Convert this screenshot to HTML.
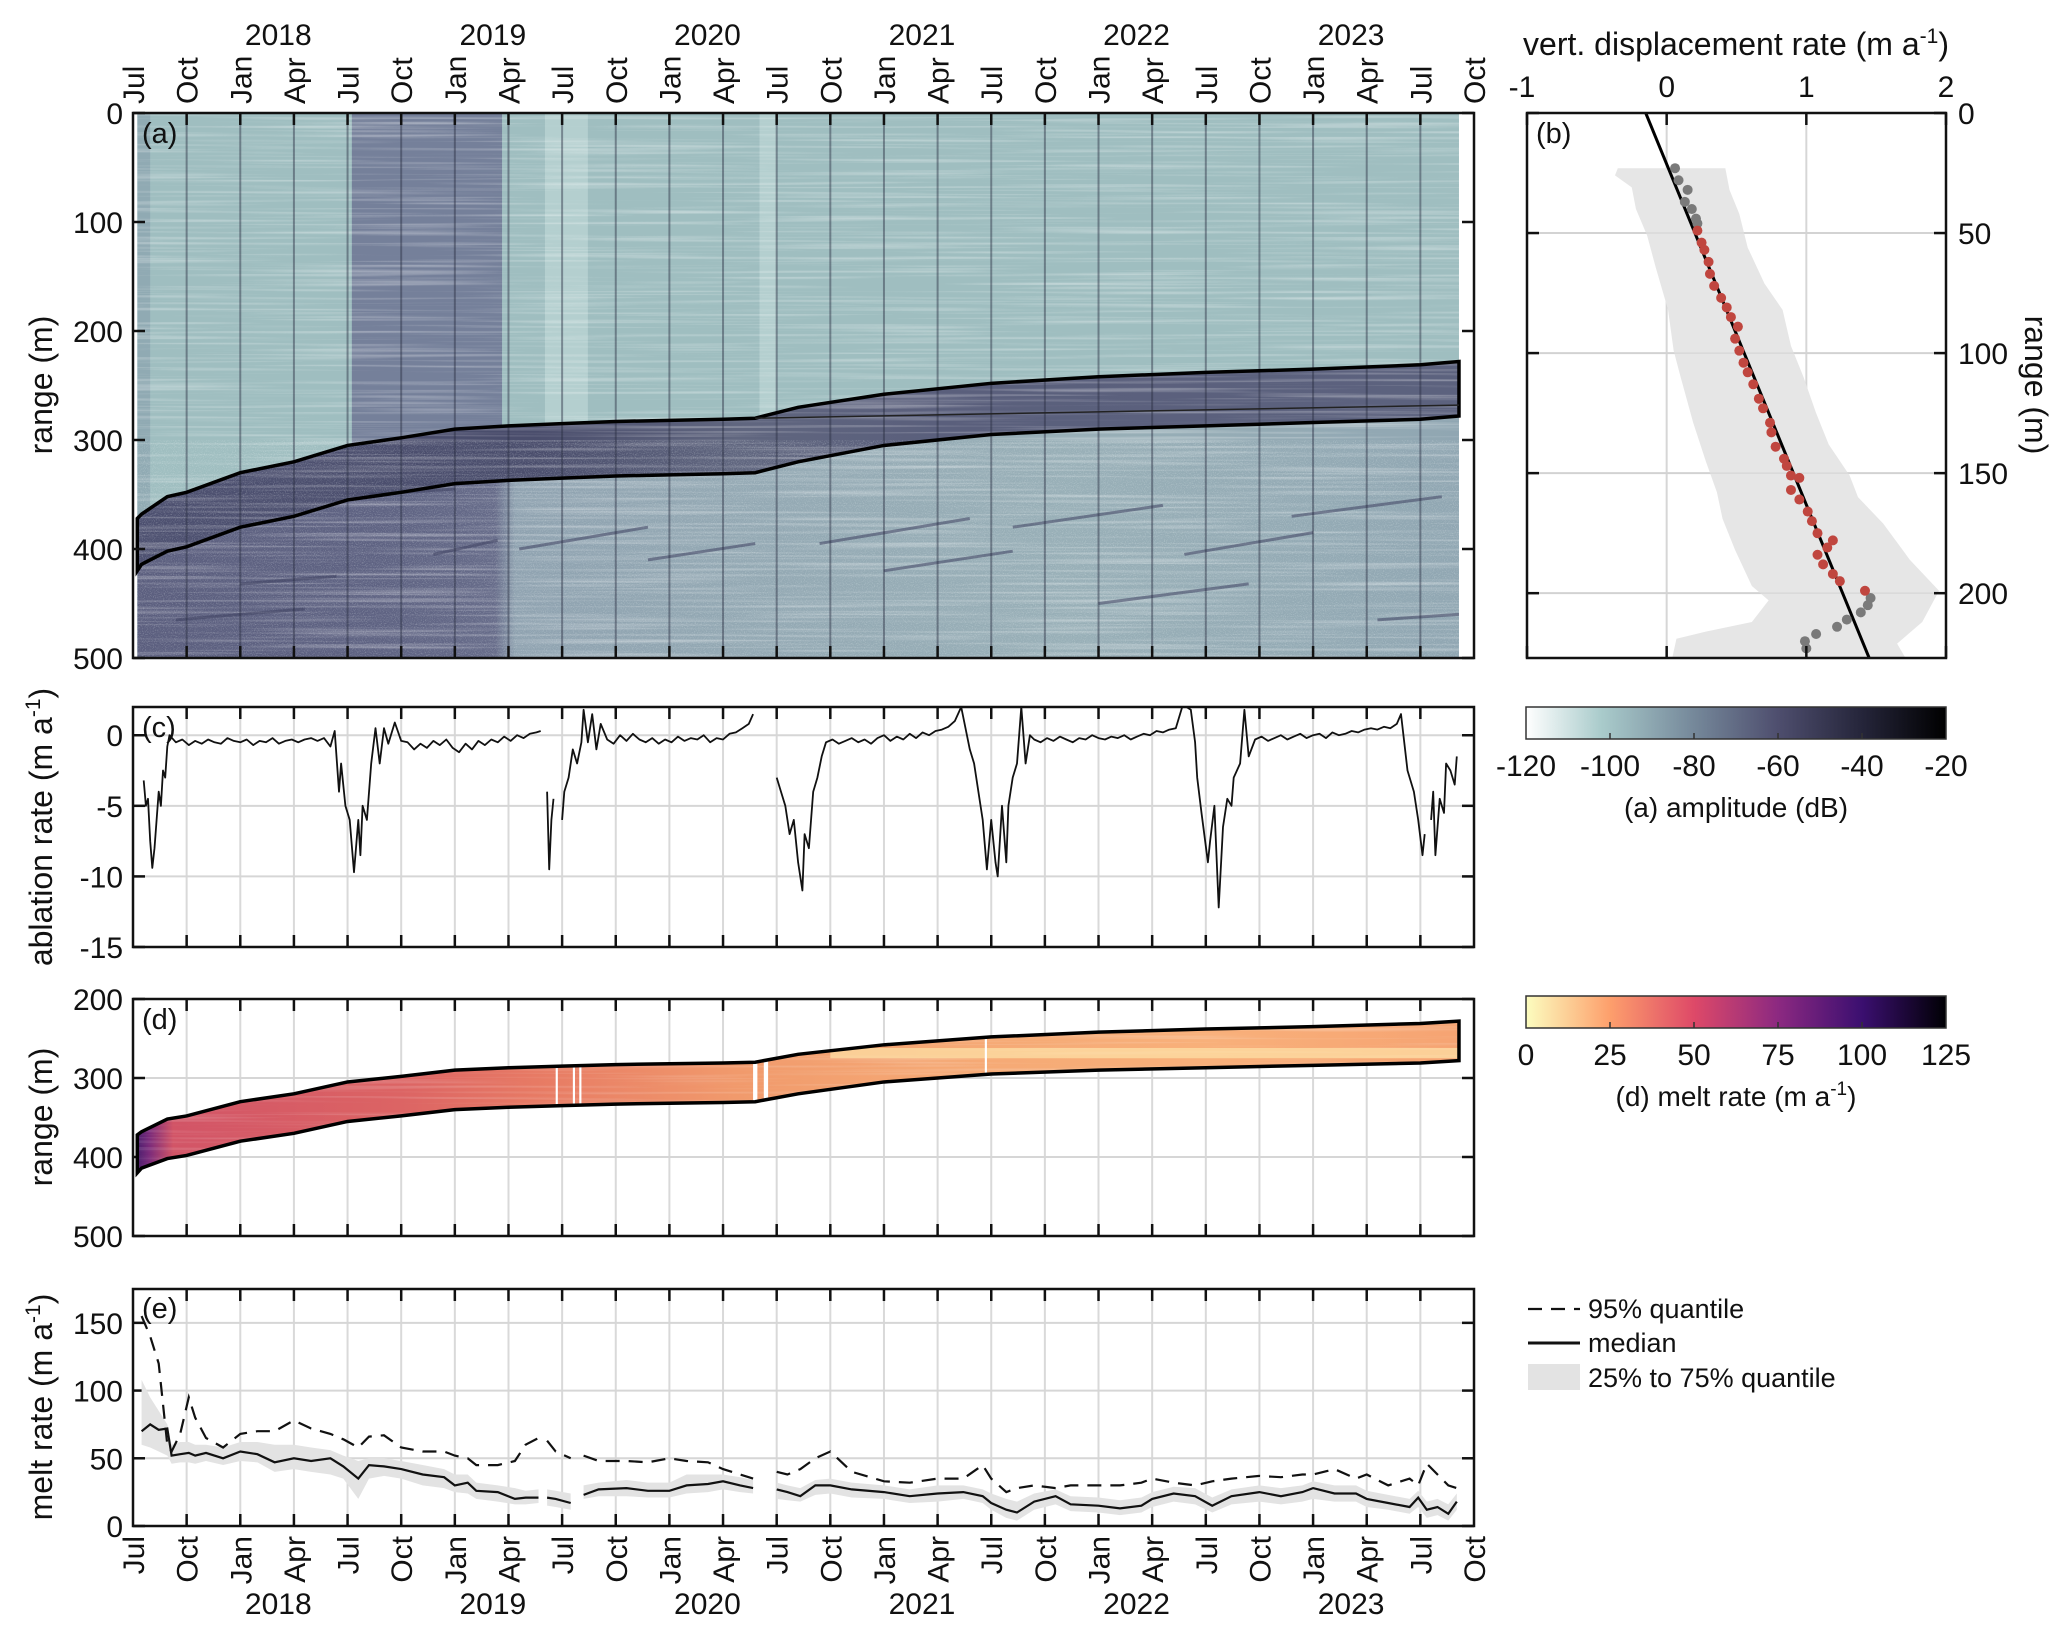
<!DOCTYPE html>
<html><head><meta charset="utf-8"><style>
html,body{margin:0;padding:0;background:#fff;}
svg{display:block;font-family:"Liberation Sans",Arial,sans-serif;}
</style></head><body>
<svg id="fig" width="2067" height="1636" viewBox="0 0 2067 1636" xmlns="http://www.w3.org/2000/svg">
<defs>
<filter id="streaks" x="0" y="0" width="100%" height="100%">
<feTurbulence type="fractalNoise" baseFrequency="0.004 0.35" numOctaves="2" seed="3"/>
<feColorMatrix type="matrix" values="0 0 0 0 1  0 0 0 0 1  0 0 0 0 1  1.6 0 0 0 -0.75"/>
</filter>
<filter id="speckle" x="0" y="0" width="100%" height="100%">
<feTurbulence type="fractalNoise" baseFrequency="0.9" numOctaves="1" seed="7"/>
<feColorMatrix type="matrix" values="0 0 0 0 0.85  0 0 0 0 0.92  0 0 0 0 0.92  1.8 0 0 0 -0.85"/>
</filter>
<linearGradient id="ampGrad" x1="0" x2="1" y1="0" y2="0">
<stop offset="0" stop-color="#ffffff"/><stop offset="0.18" stop-color="#a9cbcb"/><stop offset="0.4" stop-color="#75889a"/><stop offset="0.6" stop-color="#4e4e6e"/><stop offset="0.8" stop-color="#25253a"/><stop offset="1" stop-color="#000000"/>
</linearGradient>
<linearGradient id="magGrad" x1="0" x2="1" y1="0" y2="0">
<stop offset="0" stop-color="#fcfdbf"/><stop offset="0.2" stop-color="#fd9f6c"/><stop offset="0.4" stop-color="#de4968"/><stop offset="0.6" stop-color="#8c2981"/><stop offset="0.8" stop-color="#3b0f70"/><stop offset="1" stop-color="#000004"/>
</linearGradient>
</defs>
</svg>
<script>
// ===== data =====
const quarterTicks=[2017.5,2017.75,2018,2018.25,2018.5,2018.75,2019,2019.25,2019.5,2019.75,2020,2020.25,2020.5,2020.75,2021,2021.25,2021.5,2021.75,2022,2022.25,2022.5,2022.75,2023,2023.25,2023.5,2023.75];
const monthNames={0.5:'Jul',0.75:'Oct',0:'Jan',0.25:'Apr'};
const yearLabels=[2018,2019,2020,2021,2022,2023];
// layer boundaries (panel a,d)
const bndT=[2017.52,2017.54,2017.66,2017.75,2018.0,2018.25,2018.5,2018.75,2019.0,2019.25,2019.5,2019.75,2020.0,2020.25,2020.4,2020.6,2021.0,2021.5,2022.0,2022.5,2023.0,2023.5,2023.68];
const bndUpper=[372,368,352,348,330,320,305,298,290,287,285,283,282,281,280,270,258,248,242,238,235,231,228];
const bndLower=[420,414,402,398,380,370,355,348,340,337,335,333,332,331,330,320,305,295,290,287,284,281,278];
// panel c ablation rate (null = gap)
const ablT=[2017.55,2017.56,2017.57,2017.58,2017.59,2017.6,2017.61,2017.62,2017.63,2017.64,2017.65,2017.66,2017.67,2017.7,2017.73,2017.76,2017.79,2017.82,2017.85,2017.88,2017.91,2017.94,2017.97,2018.0,2018.03,2018.06,2018.09,2018.12,2018.15,2018.18,2018.21,2018.24,2018.27,2018.3,2018.33,2018.36,2018.39,2018.42,2018.44,2018.46,2018.47,2018.49,2018.51,2018.53,2018.55,2018.56,2018.57,2018.59,2018.61,2018.63,2018.65,2018.67,2018.69,2018.72,2018.75,2018.78,2018.81,2018.84,2018.87,2018.9,2018.93,2018.96,2018.99,2019.02,2019.05,2019.08,2019.11,2019.14,2019.17,2019.2,2019.23,2019.26,2019.29,2019.32,2019.35,2019.38,2019.4,null,2019.43,2019.44,2019.45,2019.46,null,2019.5,2019.51,2019.53,2019.55,2019.57,2019.59,2019.6,2019.62,2019.64,2019.66,2019.68,2019.71,2019.74,2019.77,2019.8,2019.83,2019.86,2019.89,2019.92,2019.95,2019.98,2020.01,2020.04,2020.07,2020.1,2020.13,2020.16,2020.19,2020.22,2020.25,2020.28,2020.31,2020.34,2020.37,2020.39,null,2020.5,2020.52,2020.54,2020.56,2020.58,2020.6,2020.62,2020.63,2020.65,2020.67,2020.69,2020.71,2020.73,2020.76,2020.79,2020.82,2020.85,2020.88,2020.91,2020.94,2020.97,2021.0,2021.03,2021.06,2021.09,2021.12,2021.15,2021.18,2021.21,2021.24,2021.27,2021.3,2021.33,2021.36,2021.38,2021.4,2021.42,2021.44,2021.46,2021.48,2021.5,2021.52,2021.53,2021.55,2021.57,2021.58,2021.6,2021.62,2021.64,2021.66,2021.68,2021.7,2021.73,2021.76,2021.79,2021.82,2021.85,2021.88,2021.91,2021.94,2021.97,2022.0,2022.03,2022.06,2022.09,2022.12,2022.15,2022.18,2022.21,2022.24,2022.27,2022.3,2022.33,2022.36,2022.39,2022.41,2022.43,2022.45,2022.46,2022.48,2022.51,2022.52,2022.54,2022.56,2022.58,2022.6,2022.62,2022.63,2022.66,2022.68,2022.7,2022.73,2022.76,2022.79,2022.82,2022.85,2022.88,2022.91,2022.94,2022.97,2023.0,2023.03,2023.06,2023.09,2023.12,2023.15,2023.18,2023.21,2023.24,2023.27,2023.3,2023.33,2023.36,2023.39,2023.41,2023.44,2023.47,2023.49,2023.51,2023.52,null,2023.55,2023.56,2023.57,2023.59,2023.61,2023.62,2023.64,2023.66,2023.67];
const ablV=[-3.2,-5,-4.5,-7.5,-9.4,-8,-6,-4,-5,-2.5,-3,-0.8,0,-0.5,-0.3,-0.7,-0.4,-0.6,-0.3,-0.5,-0.6,-0.2,-0.4,-0.5,-0.3,-0.7,-0.4,-0.5,-0.2,-0.6,-0.4,-0.3,-0.5,-0.3,-0.2,-0.4,-0.2,-0.8,0.3,-4,-2,-5,-6,-9.7,-6,-8.5,-5,-6,-2,0.5,-2,0.5,-0.6,0.9,-0.4,-0.5,-1,-0.6,-0.9,-0.4,-0.7,-0.3,-0.9,-1.2,-0.6,-1,-0.4,-0.7,-0.3,-0.5,-0.1,-0.4,0,-0.2,0.1,0.2,0.3,null,-4,-9.5,-6,-4.5,null,-6,-4,-3,-1,-2,-0.5,1.8,-0.5,1.5,-1,0.8,-0.3,-0.6,0,-0.4,0.1,-0.3,-0.5,-0.2,-0.6,-0.3,-0.5,-0.1,-0.4,-0.2,-0.3,0,-0.5,-0.2,-0.3,0.1,0.2,0.5,0.8,1.5,null,-3,-4,-5,-7,-6,-9,-11,-7,-8,-4,-3,-1.5,-0.5,-0.3,-0.6,-0.4,-0.2,-0.5,-0.3,-0.6,-0.2,0,-0.4,-0.1,-0.3,0.1,-0.2,0.2,0,0.3,0.4,0.6,1,2,0.5,-1,-2,-4,-6,-9.5,-6,-9,-10,-5,-9,-5,-3,-2,2,-2,0,-0.3,-0.5,-0.2,-0.4,-0.1,-0.3,-0.5,-0.2,-0.3,0,-0.2,-0.3,-0.1,-0.2,0,-0.3,-0.1,0.1,0,0.3,0.2,0.4,0.5,2,2,1.8,-0.5,-3,-5.5,-9,-7.5,-5,-12.2,-6.5,-4.5,-5,-3,-2,1.8,-1.5,-0.3,-0.1,-0.4,-0.2,0,-0.3,-0.1,0.1,-0.2,0,0.1,-0.2,0.2,0,0.1,0.3,0.2,0.4,0.5,0.4,0.6,0.5,0.8,1.5,-2.5,-4,-6,-8.5,-7,null,-6,-4,-8.5,-4.5,-5.5,-2,-2.5,-3.5,-1.5];
// panel e melt rate statistics
const eT=[2017.54,2017.58,2017.62,2017.66,2017.68,2017.72,2017.76,2017.79,2017.84,2017.92,2018.0,2018.08,2018.16,2018.25,2018.33,2018.42,2018.48,2018.55,2018.6,2018.67,2018.75,2018.85,2018.95,2019.0,2019.06,2019.1,2019.2,2019.28,2019.33,2019.39,null,2019.43,2019.47,2019.54,null,2019.6,2019.67,2019.8,2019.9,2020.0,2020.08,2020.18,2020.25,2020.33,2020.39,null,2020.5,2020.55,2020.61,2020.68,2020.75,2020.85,2021.0,2021.12,2021.25,2021.37,2021.46,2021.5,2021.57,2021.62,2021.7,2021.8,2021.87,2022.0,2022.1,2022.2,2022.25,2022.35,2022.45,2022.53,2022.62,2022.75,2022.85,2022.95,2023.0,2023.1,2023.2,2023.25,2023.35,2023.45,2023.49,2023.53,2023.58,2023.63,2023.67];
const eMed=[70,75,71,72,52,53,54,52,54,50,55,53,47,50,48,50,44,35,45,44,42,38,36,30,32,26,25,20,21,21,null,21,20,17,null,23,27,28,26,26,30,31,33,30,28,null,27,25,22,30,30,27,25,22,24,25,22,17,12,10,18,22,16,15,13,15,20,24,22,15,22,25,22,25,28,24,24,20,17,14,21,12,14,9,18];
const eQ95=[155,140,120,60,55,68,95,80,65,58,68,70,70,78,72,68,64,58,66,67,58,55,55,52,50,45,45,48,60,65,null,63,55,50,null,52,48,48,47,50,48,47,42,38,35,null,40,38,42,50,55,40,33,32,35,35,45,35,25,28,30,28,30,30,30,32,35,32,30,33,35,37,36,38,38,42,35,38,30,35,30,46,38,30,28];
const eQ25=[60,58,55,52,46,47,47,46,48,45,48,47,40,42,40,38,35,20,35,37,35,30,28,25,24,20,18,16,16,17,null,15,14,12,null,20,22,22,21,21,24,25,27,25,24,null,20,19,18,23,24,21,20,17,18,20,17,12,6,4,12,16,11,10,8,10,14,18,16,10,16,18,16,18,20,18,18,14,12,9,14,6,8,4,12];
const eQ75=[108,95,85,75,60,62,62,60,60,58,62,62,60,60,58,56,52,48,50,50,48,45,42,38,38,32,30,28,26,27,null,27,26,24,null,30,32,34,32,32,38,38,38,36,34,null,32,30,28,34,35,32,30,27,30,30,27,24,20,18,24,27,22,21,19,21,25,29,28,21,27,30,28,30,33,30,30,26,23,20,26,18,20,16,24];
// panel b vertical displacement
const bRedV=[0.22,0.25,0.27,0.30,0.31,0.34,0.39,0.43,0.46,0.51,0.49,0.52,0.55,0.58,0.62,0.66,0.69,0.74,0.75,0.78,0.84,0.86,0.89,0.95,0.89,0.95,1.01,1.04,1.08,1.19,1.15,1.08,1.12,1.19,1.24,1.42];
const bRedR=[49,54,57,62,67,72,77,81,85,89,94,99,104,108,113,119,123,129,133,139,144,147,151,152,157,161,166,170,175,178,181,184,188,192,195,199];
const bGreyV=[0.06,0.085,0.15,0.13,0.18,0.21,0.22,1.46,1.44,1.39,1.29,1.22,1.07,0.99,1.0];
const bGreyR=[23,28,32,37,40,44,46,202,205,208,211,214,217,220,223];
const bFitV=[-0.15,1.45];
const bFitR=[0,227];
const bBandR=[23,26,31,40,51,64,82,99,110,129,145,158,169,182,197,203,212,216,219,227];
const bBandLo=[-0.35,-0.37,-0.25,-0.22,-0.14,-0.08,0.01,0.05,0.1,0.19,0.28,0.36,0.4,0.49,0.61,0.73,0.61,0.28,0.07,0.04];
const bBandRR=[23,32,42,56,71,82,97,110,125,138,151,160,171,186,199,212,221,227];
const bBandHi=[0.42,0.45,0.52,0.58,0.7,0.83,0.89,0.98,1.07,1.16,1.31,1.37,1.55,1.74,1.95,1.83,1.65,1.71];
const ampTicks=[-120,-100,-80,-60,-40,-20];
const meltTicks=[0,25,50,75,100,125];

// ===== helpers =====
const NS='http://www.w3.org/2000/svg';
const svg=document.getElementById('fig');
function el(tag,attrs,parent,text){const e=document.createElementNS(NS,tag);for(const k in attrs)e.setAttribute(k,attrs[k]);if(text!==undefined)e.textContent=text;(parent||svg).appendChild(e);return e;}
const L=133,R=1474,T0=2017.5,T1=2023.75;
const X=t=>L+(t-T0)*(R-L)/(T1-T0);
const Ya=r=>113+r*(658-113)/500;
const Yc=v=>707+(2-v)*(947-707)/17;
const Yd=r=>999+(r-200)*(1236-999)/300;
const Ye=v=>1526-v*(1526-1289)/175;
const Xb=v=>1527+(v+1)*(1946-1527)/3;
const Yb=r=>113+r*(658-113)/227;
const FS=30;
function g(name){const e=el('g',{});return e;}
function ok(v){return v!==null&&v!==undefined&&isFinite(v);}
function pathFrom(xs,ys){let d='',pen=false;const n=Math.min(xs.length,ys.length);for(let i=0;i<n;i++){if(!ok(xs[i])||!ok(ys[i])){pen=false;continue;}d+=(pen?'L':'M')+xs[i].toFixed(1)+' '+ys[i].toFixed(1);pen=true;}return d;}
function segments(ts){const s=[];let cur=[];ts.forEach((t,i)=>{if(t===null){if(cur.length)s.push(cur);cur=[];}else cur.push(i);});if(cur.length)s.push(cur);return s;}
function frame(gp,x,y,w,h){el('rect',{x:x,y:y,width:w,height:h,fill:'none',stroke:'#111','stroke-width':2.5},gp);}
function timeGrid(gp,top,bot,color,withTicks){quarterTicks.forEach(t=>{const x=X(t);if(t>T0&&t<T1)el('line',{x1:x,x2:x,y1:top,y2:bot,stroke:color,'stroke-width':2},gp);if(withTicks&&t>T0&&t<T1){el('line',{x1:x,x2:x,y1:top,y2:top+12,stroke:'#111','stroke-width':2.5},gp);el('line',{x1:x,x2:x,y1:bot,y2:bot-12,stroke:'#111','stroke-width':2.5},gp);}});}
function yAxis(gp,ticks,Y,top,bot,grid){ticks.forEach(v=>{const y=Y(v);if(grid&&y>top+2&&y<bot-2)el('line',{x1:L,x2:R,y1:y,y2:y,stroke:'#d6d6d6','stroke-width':2},gp);el('line',{x1:L,x2:L+12,y1:y,y2:y,stroke:'#111','stroke-width':2.5},gp);el('line',{x1:R,x2:R-12,y1:y,y2:y,stroke:'#111','stroke-width':2.5},gp);const t=el('text',{x:L-10,y:y+11,'text-anchor':'end','font-size':FS,fill:'#111'},gp,String(v));});}
function yTitle(gp,x,yc,txt,name){const t=el('text',{x:x,y:yc,'text-anchor':'middle','font-size':32,fill:'#111',transform:`rotate(-90 ${x} ${yc})`},gp);t.innerHTML=txt;}
function panelLabel(gp,x,y,txt){const t=el('text',{x:x,y:y,'font-size':29,fill:'#111'},gp,txt);}
function bandPoly(ts,up,lo,Y){let pts=[];for(let i=0;i<ts.length;i++)pts.push(X(ts[i])+','+Y(up[i]));for(let i=ts.length-1;i>=0;i--)pts.push(X(ts[i])+','+Y(lo[i]));return pts.join(' ');}

// ===== top time axis =====
const gTop=g('top-time-axis');
quarterTicks.forEach(t=>{const frac=Math.round((t-Math.floor(t))*100)/100;const x=X(t)+11;const tx=el('text',{x:x,y:104,'font-size':FS,fill:'#111',transform:`rotate(-90 ${x} 104)`},gTop,monthNames[frac]);});
yearLabels.forEach(yr=>{const tx=el('text',{x:X(yr)+38,y:45,'text-anchor':'middle','font-size':FS,fill:'#111'},gTop,String(yr));});

// ===== panel a =====
const gA=g('panel-a-radargram');
const cpA=el('clipPath',{id:'clipA'},gA);
el('rect',{x:X(2017.52),y:113,width:X(2023.68)-X(2017.52),height:545},cpA);
const aImg=el('g',{'clip-path':'url(#clipA)'},gA);

el('rect',{x:L,y:113,width:R-L,height:545,fill:'#9fbec0'},aImg);
el('rect',{x:X(2018.52),y:113,width:X(2019.22)-X(2018.52),height:545,fill:'#75809a'},aImg);
el('rect',{x:X(2019.42),y:113,width:X(2019.62)-X(2019.42),height:545,fill:'#b4cfcf'},aImg);
el('rect',{x:X(2020.42),y:113,width:X(2020.5)-X(2020.42),height:545,fill:'#b4cfcf'},aImg);
el('rect',{x:X(2017.52),y:113,width:X(2017.58)-X(2017.52),height:545,fill:'#90aab3'},aImg);
let lowPts=bndT.map((t,i)=>X(t)+','+Ya(bndLower[i])).join(' ')+` ${X(2023.68)},${Ya(500)} ${X(2017.52)},${Ya(500)}`;
const lg=el('linearGradient',{id:'lowGrad',gradientUnits:'userSpaceOnUse',x1:X(2017.5),x2:X(2023.75),y1:0,y2:0},svg.querySelector('defs'));
[[0,'#5b5e7e'],[0.18,'#5e6282'],[0.27,'#666b89'],[0.285,'#8fa2b0'],[0.45,'#93a8b3'],[0.7,'#98afb7'],[1,'#90a6b2']].forEach(s=>el('stop',{offset:s[0],'stop-color':s[1]},lg));
el('polygon',{points:lowPts,fill:'url(#lowGrad)'},aImg);
const bg=el('linearGradient',{id:'bandGrad',gradientUnits:'userSpaceOnUse',x1:X(2017.5),x2:X(2023.75),y1:0,y2:0},svg.querySelector('defs'));
[[0,'#4d5070'],[0.3,'#4a4d6c'],[0.45,'#60667f'],[0.6,'#5a5f7c'],[1,'#5c627e']].forEach(s=>el('stop',{offset:s[0],'stop-color':s[1]},bg));
el('polygon',{points:bandPoly(bndT,bndUpper,bndLower,Ya),fill:'url(#bandGrad)'},aImg);
el('rect',{x:L,y:113,width:R-L,height:545,filter:'url(#streaks)',opacity:0.55},aImg);
el('rect',{x:L,y:Ya(300),width:R-L,height:Ya(500)-Ya(300),filter:'url(#speckle)',opacity:0.45},aImg);
const streaks=[[2017.7,465,2018.3,455],[2018.0,432,2018.45,425],[2018.9,405,2019.2,392],[2019.3,400,2019.9,380],[2019.9,410,2020.4,395],[2020.7,395,2021.4,372],[2021.0,420,2021.6,402],[2021.6,380,2022.3,360],[2022.4,405,2023.0,385],[2022.9,370,2023.6,352],[2023.3,465,2023.68,460],[2022.0,450,2022.7,432],[2018.6,350,2019.0,345]];
streaks.forEach(s=>el('line',{x1:X(s[0]),y1:Ya(s[1]),x2:X(s[2]),y2:Ya(s[3]),stroke:'#3f4262','stroke-width':3,opacity:0.55},aImg));
timeGrid(gA,113,658,'rgba(40,44,64,0.45)',false);
el('polygon',{points:bandPoly(bndT,bndUpper,bndLower,Ya),fill:'none',stroke:'#000','stroke-width':3.5},gA);
el('line',{x1:X(2020.4),y1:Ya(280),x2:X(2023.68),y2:Ya(268),stroke:'#222','stroke-width':1.5},gA);
quarterTicks.forEach(t=>{const x=X(t);if(t>T0&&t<T1){el('line',{x1:x,x2:x,y1:113,y2:125,stroke:'#111','stroke-width':2.5},gA);el('line',{x1:x,x2:x,y1:658,y2:646,stroke:'#111','stroke-width':2.5},gA);}});
yAxis(gA,[0,100,200,300,400,500],Ya,113,658,false);
frame(gA,L,113,R-L,545);
panelLabel(gA,142,143,'(a)');
yTitle(gA,52,385,'range (m)','y-axis-title-a');

// ===== panel b =====
const gB=g('panel-b-displacement');
const bx0=1527,bx1=1946;
[-1,0,1,2].forEach(v=>{el('line',{x1:Xb(v),x2:Xb(v),y1:113,y2:658,stroke:'#d6d6d6','stroke-width':2},gB);});
[50,100,150,200].forEach(r=>{el('line',{x1:bx0,x2:bx1,y1:Yb(r),y2:Yb(r),stroke:'#d6d6d6','stroke-width':2},gB);});
let bpts=bBandR.map((r,i)=>Xb(bBandLo[i])+','+Yb(r));for(let i=bBandRR.length-1;i>=0;i--)bpts.push(Xb(bBandHi[i])+','+Yb(bBandRR[i]));
const bpoly=el('polygon',{points:bpts.join(' '),fill:'#e6e6e6'},gB);
[50,100,150,200].forEach(r=>{el('line',{x1:bx0,x2:bx1,y1:Yb(r),y2:Yb(r),stroke:'#d0d0d0','stroke-width':1.5,opacity:0.6},gB);});
const fit=el('line',{x1:Xb(bFitV[0]),y1:Yb(bFitR[0]),x2:Xb(bFitV[1]),y2:Yb(bFitR[1]),stroke:'#000','stroke-width':3},gB);

bGreyV.forEach((v,i)=>{const c=el('circle',{cx:Xb(v),cy:Yb(bGreyR[i]),r:5,fill:'#7a7a7a'},gB);});
bRedV.forEach((v,i)=>{const c=el('circle',{cx:Xb(v),cy:Yb(bRedR[i]),r:5,fill:'#c0463f'},gB);});
[-1,0,1,2].forEach(v=>{el('line',{x1:Xb(v),x2:Xb(v),y1:113,y2:125,stroke:'#111','stroke-width':2.5},gB);el('line',{x1:Xb(v),x2:Xb(v),y1:658,y2:646,stroke:'#111','stroke-width':2.5},gB);const t=el('text',{x:Xb(v)-(v<0?5:0),y:97,'text-anchor':'middle','font-size':FS,fill:'#111'},gB,String(v));});
[0,50,100,150,200].forEach(r=>{el('line',{x1:bx1,x2:bx1-12,y1:Yb(r),y2:Yb(r),stroke:'#111','stroke-width':2.5},gB);el('line',{x1:bx0,x2:bx0+12,y1:Yb(r),y2:Yb(r),stroke:'#111','stroke-width':2.5},gB);const t=el('text',{x:bx1+12,y:Yb(r)+11,'font-size':FS,fill:'#111'},gB,String(r));});
frame(gB,bx0,113,bx1-bx0,545);
panelLabel(gB,1536,143,'(b)');
const bt=el('text',{x:1736,y:55,'text-anchor':'middle','font-size':32,fill:'#111'},gB);bt.innerHTML='vert. displacement rate (m a<tspan dy="-12" font-size="21">-1</tspan><tspan dy="12">)</tspan>';

const brt=el('text',{x:2025,y:385,'text-anchor':'middle','font-size':32,fill:'#111',transform:'rotate(90 2025 385)'},gB,'range (m)');


// ===== panel c =====
const gC=g('panel-c-ablation');
timeGrid(gC,707,947,'#d9d9d9',true);
yAxis(gC,[0,-5,-10,-15],Yc,707,947,true);
const abl=el('path',{d:pathFrom(ablT.map(t=>t===null?null:X(t)),ablV.map(v=>v===null?null:Yc(v))),fill:'none',stroke:'#111','stroke-width':1.8,'stroke-linejoin':'round'},gC);

frame(gC,L,707,R-L,240);
panelLabel(gC,142,737,'(c)');
yTitle(gC,52,827,'ablation rate (m a<tspan dy="-12" font-size="21">-1</tspan><tspan dy="12">)</tspan>','y-axis-title-c');

// ===== panel d =====
const gD=g('panel-d-meltrate-map');
timeGrid(gD,999,1236,'#d9d9d9',true);
yAxis(gD,[200,300,400,500],Yd,999,1236,true);
const mg=el('linearGradient',{id:'meltTime',gradientUnits:'userSpaceOnUse',x1:X(2017.5),x2:X(2023.75),y1:0,y2:0},svg.querySelector('defs'));
[[0,'#3b1a6a'],[0.012,'#7a2a7a'],[0.03,'#d25466'],[0.2,'#dc6464'],[0.3,'#e77a64'],[0.45,'#f19a6c'],[0.6,'#f5a874'],[0.8,'#f8b07a'],[1,'#f6a372']].forEach(s=>el('stop',{offset:s[0],'stop-color':s[1]},mg));
const dPoly=el('polygon',{points:bandPoly(bndT,bndUpper,bndLower,Yd),fill:'url(#meltTime)'},gD);

const cpD=el('clipPath',{id:'clipD'},gD);
el('polygon',{points:bandPoly(bndT,bndUpper,bndLower,Yd)},cpD);
const dTex=el('g',{'clip-path':'url(#clipD)'},gD);
el('rect',{x:L,y:999,width:R-L,height:237,filter:'url(#streaks)',opacity:0.35},dTex);
el('rect',{x:X(2020.75),y:Yd(262),width:X(2023.7)-X(2020.75),height:Yd(275)-Yd(262),fill:'#fde3a8',opacity:0.7},dTex);
[[2019.47,2019.48],[2019.55,2019.56],[2019.58,2019.59],[2020.39,2020.41],[2020.44,2020.46],[2021.47,2021.48]].forEach(s=>el('rect',{x:X(s[0]),y:999,width:X(s[1])-X(s[0]),height:237,fill:'#fff'},dTex));
el('polygon',{points:bandPoly(bndT,bndUpper,bndLower,Yd),fill:'none',stroke:'#000','stroke-width':3.5},gD);
frame(gD,L,999,R-L,237);
panelLabel(gD,142,1029,'(d)');
yTitle(gD,52,1117,'range (m)','y-axis-title-d');

// ===== panel e =====
const gE=g('panel-e-meltrate-stats');
timeGrid(gE,1289,1526,'#d9d9d9',true);
yAxis(gE,[0,50,100,150],Ye,1289,1526,true);
segments(eT).forEach(idx=>{let pts=idx.map(i=>X(eT[i])+','+Ye(eQ75[i]));for(let k=idx.length-1;k>=0;k--){const i=idx[k];pts.push(X(eT[i])+','+Ye(eQ25[i]));}const p=el('polygon',{points:pts.join(' '),fill:'#e3e3e3'},gE);});
const q95=el('path',{d:pathFrom(eT.map(t=>t===null?null:X(t)),eQ95.map(v=>v===null?null:Ye(v))),fill:'none',stroke:'#111','stroke-width':2.2,'stroke-dasharray':'14 9'},gE);

const med=el('path',{d:pathFrom(eT.map(t=>t===null?null:X(t)),eMed.map(v=>v===null?null:Ye(v))),fill:'none',stroke:'#111','stroke-width':2.2},gE);

frame(gE,L,1289,R-L,237);
panelLabel(gE,142,1318,'(e)');
yTitle(gE,52,1407,'melt rate (m a<tspan dy="-12" font-size="21">-1</tspan><tspan dy="12">)</tspan>','y-axis-title-e');

// ===== bottom time axis =====
const gBot=g('bottom-time-axis');
quarterTicks.forEach(t=>{const frac=Math.round((t-Math.floor(t))*100)/100;const x=X(t)+11;const tx=el('text',{x:x,y:1536,'font-size':FS,'text-anchor':'end',fill:'#111',transform:`rotate(-90 ${x} 1536)`},gBot,monthNames[frac]);});
yearLabels.forEach(yr=>{const tx=el('text',{x:X(yr)+38,y:1614,'text-anchor':'middle','font-size':FS,fill:'#111'},gBot,String(yr));});

// ===== colorbars =====
function colorbar(name,y0,fill,ticks,title){const gc=g(name);const cx0=1526,cx1=1946;el('rect',{x:cx0,y:y0,width:cx1-cx0,height:32,fill:fill,stroke:'#333','stroke-width':1.5},gc);ticks.forEach((v,i)=>{const x=cx0+i*(cx1-cx0)/(ticks.length-1);if(i>0&&i<ticks.length-1)el('line',{x1:x,x2:x,y1:y0+32,y2:y0+26,stroke:'#333','stroke-width':1.5},gc);const t=el('text',{x:x,y:y0+69,'text-anchor':'middle','font-size':FS,fill:'#111'},gc,String(v));});const tt=el('text',{x:(cx0+cx1)/2,y:y0+110,'text-anchor':'middle','font-size':28,fill:'#111'},gc);tt.innerHTML=title;}
colorbar('amplitude-colorbar',707,'url(#ampGrad)',ampTicks,'(a) amplitude (dB)');
colorbar('melt-rate-colorbar',996,'url(#magGrad)',meltTicks,'(d) melt rate (m a<tspan dy="-11" font-size="19">-1</tspan><tspan dy="11">)</tspan>');

// ===== legend =====
const gL=g('legend');
const e1=el('line',{x1:1528,x2:1580,y1:1309,y2:1309,stroke:'#111','stroke-width':2.2,'stroke-dasharray':'14 9'},gL);
let lt=el('text',{x:1588,y:1318,'font-size':27,fill:'#111'},gL,'95% quantile');
const e2=el('line',{x1:1528,x2:1580,y1:1343,y2:1343,stroke:'#111','stroke-width':3},gL);
lt=el('text',{x:1588,y:1352,'font-size':27,fill:'#111'},gL,'median');
const e3=el('rect',{x:1528,y:1364,width:52,height:26,fill:'#e3e3e3'},gL);
lt=el('text',{x:1588,y:1387,'font-size':27,fill:'#111'},gL,'25% to 75% quantile');
</script>
</body></html>
